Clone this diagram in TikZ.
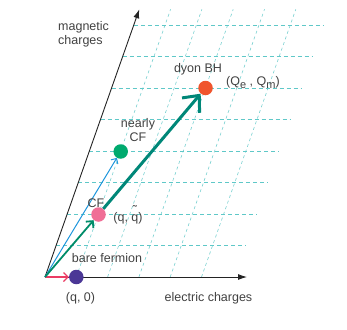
\documentclass[tikz,border=0pt]{standalone}
\usepackage{fontspec}
\setmainfont{Liberation Sans}
\usetikzlibrary{arrows.meta,backgrounds}
\definecolor{gridc}{RGB}{95,200,200}
\definecolor{axc}{RGB}{35,35,35}
\definecolor{txtc}{RGB}{65,65,65}
\definecolor{purp}{RGB}{75,55,150}
\definecolor{pinkd}{RGB}{240,110,150}
\definecolor{greend}{RGB}{0,170,110}
\definecolor{orangd}{RGB}{240,85,45}
\definecolor{pinka}{RGB}{235,60,100}
\definecolor{bluea}{RGB}{30,150,220}
\definecolor{greena}{RGB}{0,140,105}
\definecolor{teala}{RGB}{0,135,120}
\newcommand{\sbs}[1]{\raisebox{-0.45ex}{\fontsize{11}{11}\selectfont #1}}
\newcommand{\qtil}{\ooalign{q\cr\hidewidth\raisebox{1.0ex}{\char"02DC}\hidewidth\cr}}
\tikzset{
  hgrid/.style={draw=gridc, line width=0.9pt, dash pattern=on 4pt off 3pt},
  vgrid/.style={draw=gridc!85, line width=0.6pt, dash pattern=on 3pt off 3pt},
  axisline/.style={draw=axc, line width=0.9pt, -{Latex[length=9pt,width=6pt]}},
  dot/.style={circle, inner sep=0pt, minimum size=14.5pt, draw=none},
  lbl/.style={text=txtc, font=\fontsize{12.5}{14}\selectfont, inner sep=0pt, align=center},
}
\begin{document}
\begin{tikzpicture}[x=1pt,y=-1pt]
\useasboundingbox (0,0) rectangle (347,329);
% points
\coordinate (O) at (45,277);
\coordinate (ex) at (247,277);
\coordinate (my) at (139.3,9.3);
% dots
\node[dot, fill=purp] (bf) at (76.3,277) {};
\node[dot, fill=pinkd] (cf) at (98.5,214.5) {};
\node[dot, fill=greend] (ncf) at (120.7,151.5) {};
\node[dot, fill=orangd] (bh) at (205.5,88) {};
% grid and axes
\begin{pgfonlayer}{background}
\foreach \k in {1,...,5}
  \draw[vgrid] ({45+31.3*\k},277) -- ++(94.3,-267.7);
\foreach \j in {1,...,8}
  \draw[hgrid] ({45+11.1*\j},{277-31.5*\j}) -- ++(190,0);
\draw[axisline] (O) -- (ex);
\draw[axisline] (O) -- (my);
\end{pgfonlayer}
% vectors
\draw[pinka, line width=1.2pt, -{Straight Barb[length=4.5pt,width=9pt]}] (O) -- (bf);
\draw[bluea, line width=1pt, -{Straight Barb[length=4pt,width=8pt]}] (O) -- (ncf);
\draw[greena, line width=1.8pt, -{Straight Barb[length=5pt,width=10pt]}] (O) -- (cf);
\draw[teala, line width=3pt, -{Straight Barb[length=13pt,width=23pt]}] (cf) -- (bh);
% labels
\node[lbl, anchor=west, align=left] (mag) at (58,34) {magnetic\\charges};
\node[lbl] (dyl) at (198,69) {dyon BH};
\node[lbl, anchor=west] (qm) at (226,83) {(Q\sbs{e} , Q\sbs{m})};
\node[lbl] (ncfl) at (138,130) {nearly\\CF};
\node[lbl] (cfl) at (96,203) {CF};
\node[lbl] (cfq) at (128,218) {(q, \qtil)};
\node[lbl] (bfl) at (107,258) {bare fermion};
\node[lbl] (bfq) at (80.5,298) {(q, 0)};
\node[lbl] (exl) at (208.5,298) {electric charges};
\end{tikzpicture}
\end{document}
